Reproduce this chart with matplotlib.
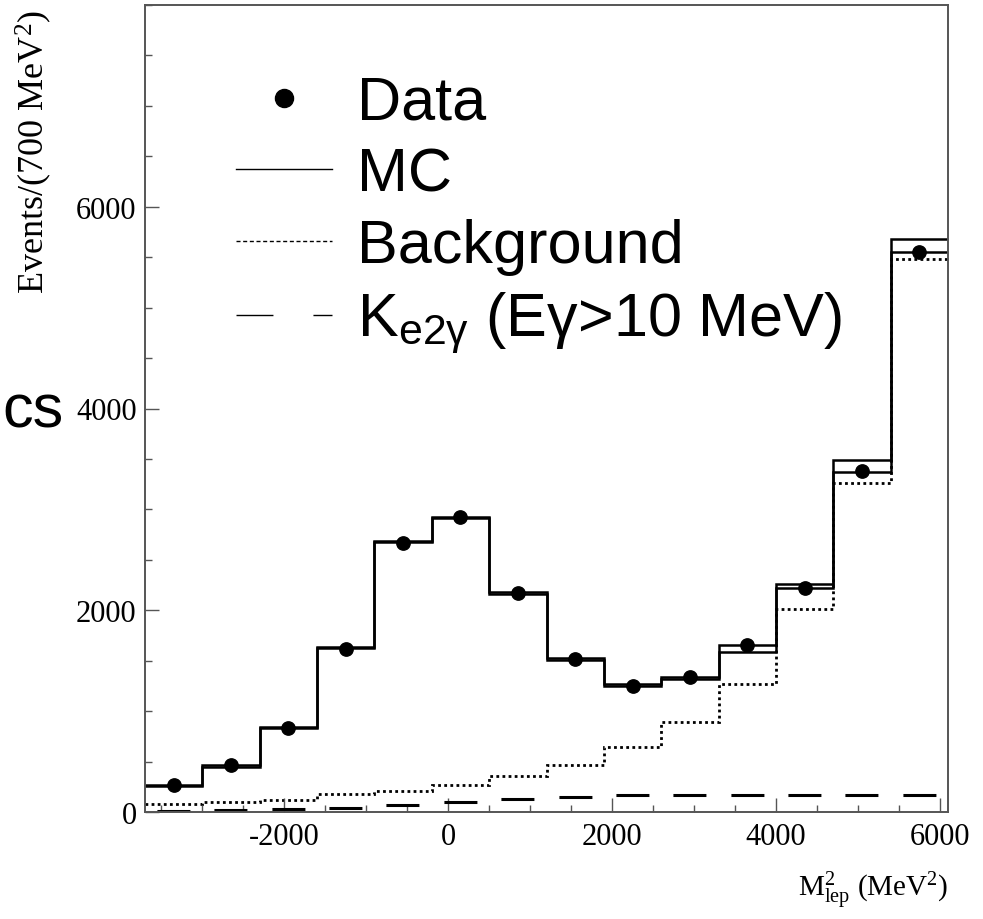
import numpy as np
import matplotlib
matplotlib.use('Agg')
import matplotlib.pyplot as plt
from matplotlib.lines import Line2D
from matplotlib.ticker import MultipleLocator

plt.rcParams['font.family'] = ['Liberation Serif', 'DejaVu Serif']
plt.rcParams['mathtext.fontset'] = 'custom'
plt.rcParams['mathtext.rm'] = 'Liberation Serif'
plt.rcParams['mathtext.it'] = 'Liberation Serif:italic'
plt.rcParams['mathtext.sf'] = 'Liberation Sans'
plt.rcParams['axes.unicode_minus'] = False

# bin edges in MeV^2 (700 MeV^2 wide)
bin_edges = [-3700, -3000, -2300, -1600, -900, -200, 500, 1200,
             1900, 2600, 3300, 4000, 4700, 5400, 6100]
bin_centers = [-3350, -2650, -1950, -1250, -550, 150, 850,
               1550, 2250, 2950, 3650, 4350, 5050, 5750]

data_vals = [272, 466, 831, 1617, 2662, 2925, 2172, 1514, 1245, 1335, 1660, 2224, 3385, 5547]
mc_vals = [272, 464, 845, 1640, 2688, 2928, 2178, 1522, 1272, 1338, 1660, 2257, 3485, 5680]
mc2_vals = [256, 450, 830, 1625, 2672, 2912, 2162, 1507, 1252, 1320, 1584, 2224, 3375, 5554]
bkg_vals = [81, 98, 117, 174, 210, 267, 356, 466, 645, 897, 1269, 2008, 3266, 5481]
ke2g_vals = [12, 17, 25, 35, 70, 101, 124, 147, 164, 165, 166, 167, 167, 165]

legend_labels = ['Data', 'MC', 'Background', 'K$_{\\mathsf{e2γ}}$ (Eγ>10 MeV)']

fig = plt.figure(figsize=(9.83, 9.2), dpi=100)
ax = fig.add_axes([145 / 983, 1 - 813 / 920, (948 - 145) / 983, (813 - 6) / 920])

ax.stairs(mc_vals, bin_edges, color='k', lw=1.8, baseline=None)
ax.stairs(mc2_vals, bin_edges, color='k', lw=1.8, baseline=None)
ax.stairs(bkg_vals, bin_edges, color='k', lw=2.0, baseline=None, ls=(0, (1.0, 1.2)))
# K_e2g: one dash per bin
ax.hlines(ke2g_vals, bin_edges[:-1], bin_edges[1:], colors='k', lw=2.2,
          linestyles=[(14.85, (10.8, 7.95))])
ax.plot(bin_centers, data_vals, 'o', color='k', ms=9.6, zorder=5)

ax.set_xlim(-3700, 6100)
ax.set_ylim(0, 8000)
ax.set_xticks([-2000, 0, 2000, 4000, 6000])
ax.set_yticks([0, 2000, 4000, 6000])
ax.xaxis.set_minor_locator(MultipleLocator(500))
ax.yaxis.set_minor_locator(MultipleLocator(500))
ax.tick_params(which='both', direction='in', color='#555555', width=1.0,
               labelsize=22)
ax.tick_params(which='major', length=10)
ax.tick_params(which='minor', length=5)
ax.tick_params(axis='x', pad=7)
ax.tick_params(axis='y', pad=6)
for sp in ax.spines.values():
    sp.set_color('#555555')
    sp.set_linewidth(1.4)

ax.set_xlabel('M$^2_{\\rm lep}$ (MeV$^2$)', fontsize=21, loc='right')
ax.xaxis.set_label_coords(1.0, -0.07)
ax.set_ylabel('Events/(700 MeV$^2$)', fontsize=26, loc='top')
ax.yaxis.set_label_coords(-0.113, 0.995)

handles = [
    Line2D([], [], ls='none', marker='o', ms=13, color='k'),
    Line2D([], [], color='k', lw=1.0),
    Line2D([], [], color='k', lw=1.0, ls=(0, (2.9, 1.9))),
    Line2D([], [], color='k', lw=1.0, ls=(0, (26.6, 28.8))),
]
ax.legend(handles, legend_labels, loc='upper left',
          bbox_to_anchor=(236 / 983, 1 - 76 / 920), bbox_transform=fig.transFigure,
          prop={'family': 'Liberation Sans', 'size': 44}, frameon=False,
          borderpad=0, borderaxespad=0, handlelength=1.57, handletextpad=0.41,
          labelspacing=0.24)

fig.text(2 / 983, 1 - 428 / 920, 'cs', ha='left', va='baseline',
         family='Liberation Sans', fontsize=44)

fig.savefig('out.png', dpi=100)
